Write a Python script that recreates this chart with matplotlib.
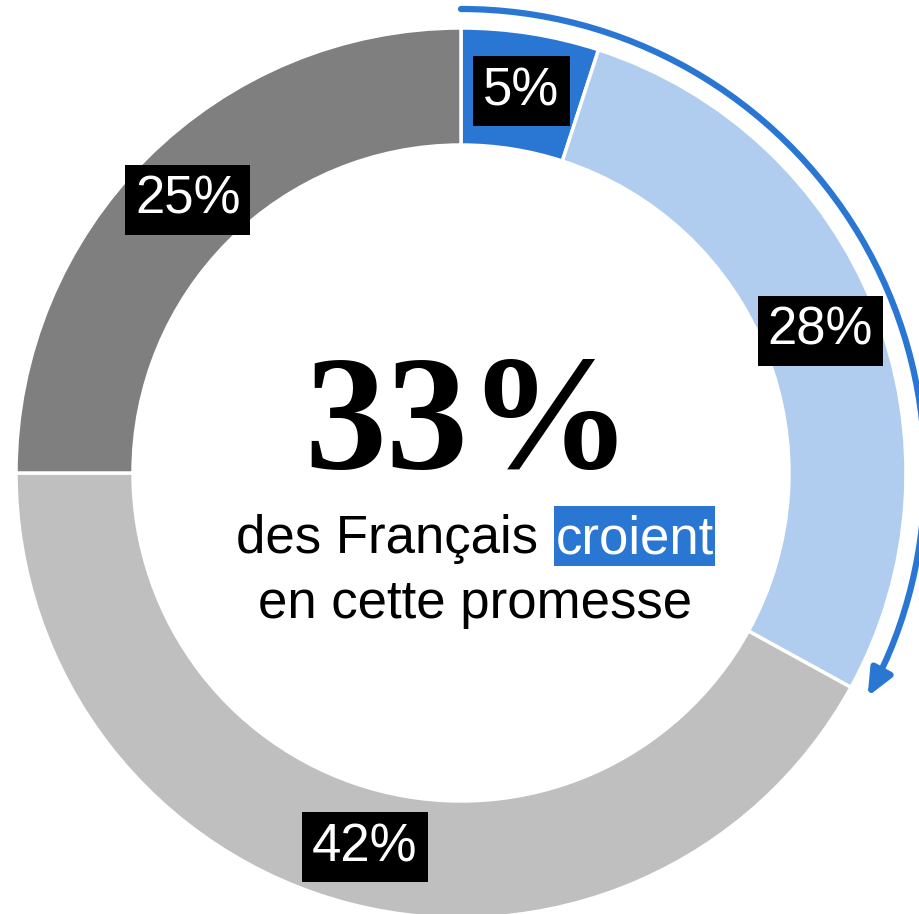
import matplotlib
matplotlib.use("Agg")
import matplotlib.pyplot as plt
import numpy as np
from matplotlib.patches import Rectangle, FancyArrowPatch
from matplotlib.path import Path

# Data
categories = ["Croient tout à fait", "Croient plutôt", "Ne croient plutôt pas", "Ne croient pas du tout"]
values = [5, 28, 42, 25]
labels = ["5%", "28%", "42%", "25%"]
colors = ["#2976D3", "#B0CDEF", "#BFBFBF", "#7F7F7F"]
headline = "33%"
headline_share = values[0] + values[1]

W, H = 919, 914
fig = plt.figure(figsize=(W / 100, H / 100), dpi=100)
ax = fig.add_axes([0, 0, 1, 1])

cx, cy = 461, 914 - 473
R_out, ring = 445, 117

wedges, _ = ax.pie(values, colors=colors, startangle=90, counterclock=False,
                   radius=R_out, center=(cx, cy),
                   wedgeprops=dict(width=ring, edgecolor="white", linewidth=2.5),
                   frame=True)
ax.set_xlim(0, W)
ax.set_ylim(0, H)
ax.set_aspect("equal")
ax.axis("off")

# labels at mid-ring
r_mid = R_out - ring / 2
start = 90.0
for v, lab in zip(values, labels):
    span = v / sum(values) * 360
    mid = np.deg2rad(start - span / 2)
    start -= span
    ax.text(cx + r_mid * np.cos(mid), cy + r_mid * np.sin(mid), lab,
            ha="center", va="center", color="white", fontsize=38,
            family="Liberation Sans",
            bbox=dict(boxstyle="square,pad=0.19", fc="black", ec="none"))

# arrow arc around the "believe" share
R_arc = 464
theta_end = 90 - headline_share / 100 * 360
arc = Path.arc(theta_end, 90)
verts = arc.vertices[::-1] * R_arc + np.array([cx, cy])
path = Path(verts, arc.codes)
arrow = FancyArrowPatch(path=path, arrowstyle="-|>,head_length=16,head_width=7",
                        color="#2976D3", linewidth=4.5, mutation_scale=1,
                        shrinkA=0, shrinkB=0)
ax.add_patch(arrow)

# center text
ax.text(468, 914 - 468, headline, ha="center", va="baseline",
        fontsize=118, fontweight="bold", family="Liberation Serif", color="black")

ax.add_patch(Rectangle((554, 914 - 566), 715 - 554, 60, fc="#2976D3", ec="none"))
ax.text(538, 914 - 553, "des Français", ha="right", va="baseline",
        fontsize=38, family="Liberation Sans", color="black")
ax.text(556, 914 - 553, "croient", ha="left", va="baseline",
        fontsize=38, family="Liberation Sans", color="white")
ax.text(475, 914 - 618, "en cette promesse", ha="center", va="baseline",
        fontsize=38, family="Liberation Sans", color="black")

fig.savefig("out.png", dpi=100)
